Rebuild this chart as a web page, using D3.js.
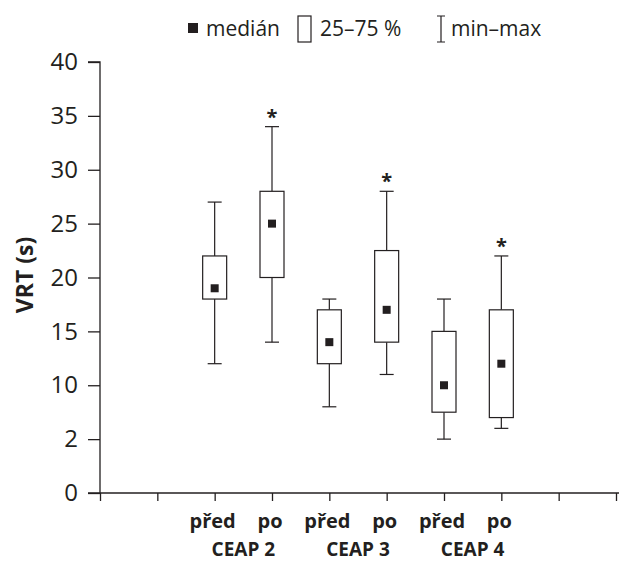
<!DOCTYPE html>
<html lang="cs">
<head>
  <meta charset="UTF-8">
  <title>VRT</title>
  <style>
    body { margin: 0; background: #fff; }
    text { font-family: 'Open Sans', sans-serif; fill: #231f20; }
  </style>
</head>
<body>

  <svg id="svg" width="619" height="563"></svg>

  <script src="https://d3js.org/d3.v7.min.js"></script>
  <script>
    // data
    const groups = ['před', 'po', 'před', 'po', 'před', 'po']
    const ceap = ['CEAP 2', 'CEAP 3', 'CEAP 4']
    const mins = [12, 14, 8, 11, 5, 6]
    const q1 = [18, 20, 12, 14, 7.5, 7]
    const medians = [19, 25, 14, 17, 10, 12]
    const q3 = [22, 28, 17, 22.5, 15, 17]
    const maxs = [27, 34, 18, 28, 18, 22]
    const stars = [false, true, false, true, false, true]
    const yTicks = [0, 5, 10, 15, 20, 25, 30, 35, 40]
    const yTickLabels = ['0', '2', '10', '15', '20', '25', '30', '35', '40']

    const svg = d3.select('#svg')
    const ink = '#231f20'

    const yScale = d3.scaleLinear()
      .domain([0, 40])
      .range([493, 62])

    // slots 0..9 along the x axis, boxes sit in slots 2..7
    const xScale = d3.scaleLinear()
      .domain([0, 9])
      .range([100, 616])

    // --------------- axes ---------------
    const yAxis = svg.append('g')
      .attr('transform', 'translate(100,0)')
      .call(d3.axisLeft(yScale).tickValues(yTicks)
        .tickFormat((d, i) => yTickLabels[i]).tickSize(12).tickPadding(10))
    yAxis.select('.domain').attr('d', `M-12,${yScale(40)}H0V${yScale(0)}`)
    yAxis.selectAll('line, path').attr('stroke', ink).attr('stroke-width', 1.3)
    yAxis.selectAll('text')
      .style('font-family', "'Open Sans', sans-serif")
      .style('font-size', '24px')
      .attr('fill', ink)

    const xAxis = svg.append('g')
      .attr('transform', `translate(0,${yScale(0)})`)
      .call(d3.axisBottom(xScale).tickValues(d3.range(0, 10)).tickFormat('').tickSize(8))
    xAxis.select('.domain').attr('d', `M88,0H619`)
    xAxis.selectAll('line, path').attr('stroke', ink).attr('stroke-width', 1.3)

    svg.append('text')
      .attr('transform', 'translate(33,275) rotate(-90)')
      .attr('text-anchor', 'middle')
      .style('font-size', '23px')
      .style('font-weight', 'bold')
      .text('VRT (s)')

    // x labels
    svg.selectAll('.grp')
      .data(groups)
      .enter()
      .append('text')
      .attr('x', (d, i) => xScale(i + 2) - 2)
      .attr('y', 528)
      .attr('text-anchor', 'middle')
      .style('font-size', '20px')
      .style('font-weight', 'bold')
      .text(d => d)

    svg.selectAll('.ceap')
      .data(ceap)
      .enter()
      .append('text')
      .attr('x', (d, i) => (xScale(2 * i + 2) + xScale(2 * i + 3)) / 2)
      .attr('y', 556)
      .attr('text-anchor', 'middle')
      .style('font-size', '19px')
      .style('font-weight', 'bold')
      .text(d => d)

    // --------------- boxes ---------------
    const boxW = 24
    const capW = 14
    const boxes = svg.selectAll('.box')
      .data(groups.map((g, i) => i))
      .enter()
      .append('g')
      .attr('transform', i => `translate(${xScale(i + 2)},0)`)

    boxes.append('line')
      .attr('y1', i => yScale(maxs[i]))
      .attr('y2', i => yScale(q3[i]))
      .attr('stroke', ink).attr('stroke-width', 1.2)
    boxes.append('line')
      .attr('y1', i => yScale(q1[i]))
      .attr('y2', i => yScale(mins[i]))
      .attr('stroke', ink).attr('stroke-width', 1.2)
    boxes.append('line')
      .attr('x1', -capW / 2).attr('x2', capW / 2)
      .attr('y1', i => yScale(maxs[i])).attr('y2', i => yScale(maxs[i]))
      .attr('stroke', ink).attr('stroke-width', 1.2)
    boxes.append('line')
      .attr('x1', -capW / 2).attr('x2', capW / 2)
      .attr('y1', i => yScale(mins[i])).attr('y2', i => yScale(mins[i]))
      .attr('stroke', ink).attr('stroke-width', 1.2)
    boxes.append('rect')
      .attr('x', -boxW / 2)
      .attr('width', boxW)
      .attr('y', i => yScale(q3[i]))
      .attr('height', i => yScale(q1[i]) - yScale(q3[i]))
      .attr('fill', '#fff')
      .attr('stroke', ink).attr('stroke-width', 1.2)
    boxes.append('rect')
      .attr('x', -4).attr('width', 8)
      .attr('y', i => yScale(medians[i]) - 4).attr('height', 8)
      .attr('fill', ink)
    boxes.filter(i => stars[i])
      .append('text')
      .attr('y', i => yScale(maxs[i]) - 3)
      .attr('text-anchor', 'middle')
      .style('font-size', '20px')
      .style('font-weight', 'bold')
      .text('*')

    // --------------- legend ---------------
    const legend = svg.append('g')
    legend.append('rect')
      .attr('x', 188).attr('y', 23).attr('width', 10).attr('height', 10)
      .attr('fill', ink)
    legend.append('text').attr('x', 206).attr('y', 36)
      .style('font-size', '21px').text('medián')
    legend.append('rect')
      .attr('x', 298).attr('y', 16).attr('width', 13).attr('height', 26)
      .attr('fill', 'none').attr('stroke', ink).attr('stroke-width', 1.2)
    legend.append('text').attr('x', 320).attr('y', 36)
      .style('font-size', '21px').text('25–75 %')
    legend.append('path')
      .attr('d', 'M437,16H445M441,16V42M437,42H445')
      .attr('fill', 'none').attr('stroke', ink).attr('stroke-width', 1.2)
    legend.append('text').attr('x', 451).attr('y', 36)
      .style('font-size', '21px').text('min–max')
  </script>
</body>
</html>
